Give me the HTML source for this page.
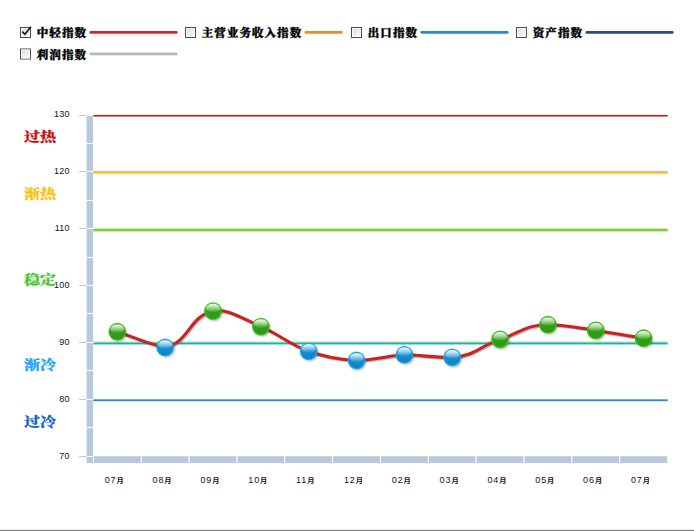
<!DOCTYPE html>
<html><head><meta charset="utf-8"><title>中轻指数</title>
<style>html,body{margin:0;padding:0;background:#fff;overflow:hidden}svg{display:block}</style></head>
<body>
<svg width="694" height="531" viewBox="0 0 694 531">
<defs>
<linearGradient id="gg" x1="0" y1="0" x2="0" y2="1"><stop offset="0" stop-color="#40b020"/><stop offset="0.5" stop-color="#319d15"/><stop offset="1" stop-color="#2e9812"/></linearGradient>
<linearGradient id="bg" x1="0" y1="0" x2="0" y2="1"><stop offset="0" stop-color="#1e9ee2"/><stop offset="0.5" stop-color="#148ed0"/><stop offset="1" stop-color="#1080c2"/></linearGradient>
<linearGradient id="hl" x1="0" y1="0" x2="0" y2="1"><stop offset="0" stop-color="#fff" stop-opacity="0.95"/><stop offset="0.45" stop-color="#fff" stop-opacity="0.55"/><stop offset="1" stop-color="#fff" stop-opacity="0"/></linearGradient>
<linearGradient id="cb" x1="0" y1="0" x2="1" y2="1"><stop offset="0" stop-color="#d6d6d6"/><stop offset="0.55" stop-color="#eeeeee"/><stop offset="1" stop-color="#fbfbfb"/></linearGradient>
<filter id="sh2" x="-5%" y="-30%" width="110%" height="160%"><feGaussianBlur stdDeviation="0.5"/></filter>
<filter id="sh" x="-30%" y="-30%" width="170%" height="170%"><feGaussianBlur stdDeviation="1.2"/></filter>
</defs>
<style>
.lg{font:900 11.5px "Liberation Serif","Noto Serif CJK SC",serif;fill:#000;letter-spacing:1.05px;stroke:#000;stroke-width:0.35px}
.ax{font:9px "Liberation Sans","Noto Sans CJK SC",sans-serif;fill:#111}
.mo{font-size:7.2px;font-weight:bold}
.zn{font:900 13px "Liberation Serif","Noto Serif CJK SC",serif;stroke-width:0.2px}
</style>
<rect width="694" height="531" fill="#fff"/>
<rect x="20.5" y="27.5" width="10" height="10" fill="url(#cb)" stroke="#4c4c4c" stroke-width="1"/>
<rect x="21.5" y="28.5" width="8" height="8" fill="none" stroke="#fff" stroke-width="1" opacity="0.9"/>
<path d="M22.3 31.7 l2.6 2.6 l6 -7.5" fill="none" stroke="#1a1a1a" stroke-width="1.7"/>
<text x="36.8" y="37.3" class="lg">中轻指数</text>
<line x1="90.8" y1="32.45" x2="176.3" y2="32.45" stroke="#d42626" stroke-width="2.8" stroke-linecap="round"/>
<rect x="185.5" y="27.5" width="10" height="10" fill="url(#cb)" stroke="#4c4c4c" stroke-width="1"/>
<rect x="186.5" y="28.5" width="8" height="8" fill="none" stroke="#fff" stroke-width="1" opacity="0.9"/>
<text x="201.8" y="37.3" class="lg">主营业务收入指数</text>
<line x1="306" y1="32.45" x2="341.3" y2="32.45" stroke="#f08a28" stroke-width="2.8" stroke-linecap="round"/>
<rect x="351.5" y="27.5" width="10" height="10" fill="url(#cb)" stroke="#4c4c4c" stroke-width="1"/>
<rect x="352.5" y="28.5" width="8" height="8" fill="none" stroke="#fff" stroke-width="1" opacity="0.9"/>
<text x="367.8" y="37.3" class="lg">出口指数</text>
<line x1="421.8" y1="32.45" x2="507.3" y2="32.45" stroke="#2a8ad8" stroke-width="2.8" stroke-linecap="round"/>
<rect x="516.5" y="27.5" width="10" height="10" fill="url(#cb)" stroke="#4c4c4c" stroke-width="1"/>
<rect x="517.5" y="28.5" width="8" height="8" fill="none" stroke="#fff" stroke-width="1" opacity="0.9"/>
<text x="532.8" y="37.3" class="lg">资产指数</text>
<line x1="586.8" y1="32.45" x2="672.3" y2="32.45" stroke="#2a4a88" stroke-width="2.8" stroke-linecap="round"/>
<rect x="20.5" y="49" width="10" height="10" fill="url(#cb)" stroke="#4c4c4c" stroke-width="1"/>
<rect x="21.5" y="50" width="8" height="8" fill="none" stroke="#fff" stroke-width="1" opacity="0.9"/>
<text x="36.8" y="58.8" class="lg">利润指数</text>
<line x1="90.8" y1="53.95" x2="176.3" y2="53.95" stroke="#b8b8b8" stroke-width="2.8" stroke-linecap="round"/>
<rect x="86.6" y="116" width="6.5" height="347.1" fill="#b8c9dc"/>
<rect x="93.9" y="456.2" width="573.3" height="6.9" fill="#b8c9dc"/>
<rect x="79" y="115" width="7.6" height="1" fill="#b8c9dc"/>
<rect x="86.6" y="143" width="7.4" height="1" fill="#fff"/>
<text x="69.9" y="117" text-anchor="end" class="ax" letter-spacing="0.3">130</text>
<rect x="79" y="171" width="7.6" height="1" fill="#b8c9dc"/>
<rect x="86.6" y="171" width="7.4" height="1" fill="#fff"/>
<rect x="86.6" y="200" width="7.4" height="1" fill="#fff"/>
<text x="69.9" y="174" text-anchor="end" class="ax" letter-spacing="0.3">120</text>
<rect x="79" y="228" width="7.6" height="1" fill="#b8c9dc"/>
<rect x="86.6" y="228" width="7.4" height="1" fill="#fff"/>
<rect x="86.6" y="257" width="7.4" height="1" fill="#fff"/>
<text x="69.9" y="231" text-anchor="end" class="ax" letter-spacing="0.3">110</text>
<rect x="79" y="285" width="7.6" height="1" fill="#b8c9dc"/>
<rect x="86.6" y="285" width="7.4" height="1" fill="#fff"/>
<rect x="86.6" y="313" width="7.4" height="1" fill="#fff"/>
<text x="69.9" y="288" text-anchor="end" class="ax" letter-spacing="0.3">100</text>
<rect x="79" y="342" width="7.6" height="1" fill="#b8c9dc"/>
<rect x="86.6" y="342" width="7.4" height="1" fill="#fff"/>
<rect x="86.6" y="370" width="7.4" height="1" fill="#fff"/>
<text x="69.9" y="345" text-anchor="end" class="ax" letter-spacing="0.3">90</text>
<rect x="79" y="399" width="7.6" height="1" fill="#b8c9dc"/>
<rect x="86.6" y="399" width="7.4" height="1" fill="#fff"/>
<rect x="86.6" y="427" width="7.4" height="1" fill="#fff"/>
<text x="69.9" y="402" text-anchor="end" class="ax" letter-spacing="0.3">80</text>
<rect x="79" y="456" width="7.6" height="1" fill="#b8c9dc"/>
<rect x="86.6" y="456" width="7.4" height="1" fill="#fff"/>
<text x="69.9" y="459" text-anchor="end" class="ax" letter-spacing="0.3">70</text>
<rect x="140.69" y="456" width="1.1" height="7" fill="#fff"/>
<rect x="188.53" y="456" width="1.1" height="7" fill="#fff"/>
<rect x="236.37" y="456" width="1.1" height="7" fill="#fff"/>
<rect x="284.21" y="456" width="1.1" height="7" fill="#fff"/>
<rect x="332.05" y="456" width="1.1" height="7" fill="#fff"/>
<rect x="379.89" y="456" width="1.1" height="7" fill="#fff"/>
<rect x="427.73" y="456" width="1.1" height="7" fill="#fff"/>
<rect x="475.57" y="456" width="1.1" height="7" fill="#fff"/>
<rect x="523.41" y="456" width="1.1" height="7" fill="#fff"/>
<rect x="571.25" y="456" width="1.1" height="7" fill="#fff"/>
<rect x="619.09" y="456" width="1.1" height="7" fill="#fff"/>
<text x="104.72" y="483.2" class="ax"><tspan letter-spacing="0.9">07</tspan><tspan class="mo">月</tspan></text>
<text x="152.56" y="483.2" class="ax"><tspan letter-spacing="0.9">08</tspan><tspan class="mo">月</tspan></text>
<text x="200.40" y="483.2" class="ax"><tspan letter-spacing="0.9">09</tspan><tspan class="mo">月</tspan></text>
<text x="248.24" y="483.2" class="ax"><tspan letter-spacing="0.9">10</tspan><tspan class="mo">月</tspan></text>
<text x="296.08" y="483.2" class="ax"><tspan letter-spacing="0.9">11</tspan><tspan class="mo">月</tspan></text>
<text x="343.92" y="483.2" class="ax"><tspan letter-spacing="0.9">12</tspan><tspan class="mo">月</tspan></text>
<text x="391.76" y="483.2" class="ax"><tspan letter-spacing="0.9">02</tspan><tspan class="mo">月</tspan></text>
<text x="439.60" y="483.2" class="ax"><tspan letter-spacing="0.9">03</tspan><tspan class="mo">月</tspan></text>
<text x="487.44" y="483.2" class="ax"><tspan letter-spacing="0.9">04</tspan><tspan class="mo">月</tspan></text>
<text x="535.28" y="483.2" class="ax"><tspan letter-spacing="0.9">05</tspan><tspan class="mo">月</tspan></text>
<text x="583.12" y="483.2" class="ax"><tspan letter-spacing="0.9">06</tspan><tspan class="mo">月</tspan></text>
<text x="630.96" y="483.2" class="ax"><tspan letter-spacing="0.9">07</tspan><tspan class="mo">月</tspan></text>
<rect x="93.4" y="115" width="574.3" height="1" fill="#cc1010" opacity="1"/>
<rect x="93.4" y="116" width="574.3" height="1" fill="#cc1010" opacity="0.55"/>
<rect x="93.4" y="171" width="574.3" height="1" fill="#e86060" opacity="0.55"/>
<rect x="93.4" y="172" width="574.3" height="1" fill="#ffc010" opacity="1"/>
<rect x="93.4" y="173" width="574.3" height="1" fill="#ffc010" opacity="0.7"/>
<rect x="93.4" y="228" width="574.3" height="1" fill="#ffc010" opacity="0.4"/>
<rect x="93.4" y="229" width="574.3" height="1" fill="#58d238" opacity="1"/>
<rect x="93.4" y="230" width="574.3" height="1" fill="#58d238" opacity="0.85"/>
<rect x="93.4" y="231" width="574.3" height="1" fill="#58d238" opacity="0.35"/>
<rect x="93.4" y="341" width="574.3" height="1" fill="#80de60" opacity="0.35"/>
<rect x="93.4" y="342" width="574.3" height="1" fill="#80de60" opacity="1"/>
<rect x="93.4" y="343" width="574.3" height="1" fill="#10a8f0" opacity="1"/>
<rect x="93.4" y="344" width="574.3" height="1" fill="#10a8f0" opacity="0.45"/>
<rect x="93.4" y="399" width="574.3" height="1" fill="#2a88d8" opacity="0.7"/>
<rect x="93.4" y="400" width="574.3" height="1" fill="#2a88d8" opacity="1"/>
<rect x="93.4" y="401" width="574.3" height="1" fill="#2a88d8" opacity="0.2"/>
<text transform="translate(24,140.9) scale(1.235,1)" class="zn" fill="#c81010" stroke="#c81010">过热</text>
<text transform="translate(24,197.9) scale(1.235,1)" class="zn" fill="#ffc010" stroke="#ffc010">渐热</text>
<text transform="translate(24,283.9) scale(1.235,1)" class="zn" fill="#48c828" stroke="#48c828">稳定</text>
<text transform="translate(24,368.5) scale(1.235,1)" class="zn" fill="#1aa4f4" stroke="#1aa4f4">渐冷</text>
<text transform="translate(24,425.5) scale(1.235,1)" class="zn" fill="#1264c8" stroke="#1264c8">过冷</text>
<path d="M117.32 331.70 C133.11 336.91 149.37 344.37 165.16 347.50 C189.08 342.35 189.08 316.33 213.00 311.10 C227.35 307.97 244.10 319.56 260.84 326.60 C279.98 334.64 289.54 344.52 308.68 351.30 C323.03 356.38 336.43 359.76 356.52 360.50 C368.48 360.94 392.40 355.19 404.36 354.80 C416.32 354.41 440.24 358.36 452.20 357.40 C476.12 355.47 478.51 346.76 500.04 339.40 C521.57 332.04 526.35 324.70 547.88 324.70 C567.02 324.70 581.37 328.38 595.72 330.40 C611.51 332.97 627.77 335.63 643.56 338.20" transform="translate(1,1.3)" fill="none" stroke="#50585c" stroke-opacity="0.42" stroke-width="2.6" stroke-linecap="round" stroke-linejoin="round" filter="url(#sh2)"/>
<path d="M117.32 331.70 C133.11 336.91 149.37 344.37 165.16 347.50 C189.08 342.35 189.08 316.33 213.00 311.10 C227.35 307.97 244.10 319.56 260.84 326.60 C279.98 334.64 289.54 344.52 308.68 351.30 C323.03 356.38 336.43 359.76 356.52 360.50 C368.48 360.94 392.40 355.19 404.36 354.80 C416.32 354.41 440.24 358.36 452.20 357.40 C476.12 355.47 478.51 346.76 500.04 339.40 C521.57 332.04 526.35 324.70 547.88 324.70 C567.02 324.70 581.37 328.38 595.72 330.40 C611.51 332.97 627.77 335.63 643.56 338.20" fill="none" stroke="#d02020" stroke-width="3.05" stroke-linecap="round" stroke-linejoin="round"/>
<circle cx="118.62" cy="333.30" r="8.4" fill="#000" opacity="0.28" filter="url(#sh)"/>
<circle cx="117.32" cy="331.70" r="8.9" fill="#43bf23"/>
<circle cx="117.32" cy="331.70" r="7.7" fill="url(#gg)"/>
<ellipse cx="117.32" cy="328.80" rx="6.9" ry="4.4" fill="url(#hl)"/>
<circle cx="166.46" cy="349.10" r="8.4" fill="#000" opacity="0.28" filter="url(#sh)"/>
<circle cx="165.16" cy="347.50" r="8.9" fill="#1fa8f0"/>
<circle cx="165.16" cy="347.50" r="7.7" fill="url(#bg)"/>
<ellipse cx="165.16" cy="344.60" rx="6.9" ry="4.4" fill="url(#hl)"/>
<circle cx="214.30" cy="312.70" r="8.4" fill="#000" opacity="0.28" filter="url(#sh)"/>
<circle cx="213.00" cy="311.10" r="8.9" fill="#43bf23"/>
<circle cx="213.00" cy="311.10" r="7.7" fill="url(#gg)"/>
<ellipse cx="213.00" cy="308.20" rx="6.9" ry="4.4" fill="url(#hl)"/>
<circle cx="262.14" cy="328.20" r="8.4" fill="#000" opacity="0.28" filter="url(#sh)"/>
<circle cx="260.84" cy="326.60" r="8.9" fill="#43bf23"/>
<circle cx="260.84" cy="326.60" r="7.7" fill="url(#gg)"/>
<ellipse cx="260.84" cy="323.70" rx="6.9" ry="4.4" fill="url(#hl)"/>
<circle cx="309.98" cy="352.90" r="8.4" fill="#000" opacity="0.28" filter="url(#sh)"/>
<circle cx="308.68" cy="351.30" r="8.9" fill="#1fa8f0"/>
<circle cx="308.68" cy="351.30" r="7.7" fill="url(#bg)"/>
<ellipse cx="308.68" cy="348.40" rx="6.9" ry="4.4" fill="url(#hl)"/>
<circle cx="357.82" cy="362.10" r="8.4" fill="#000" opacity="0.28" filter="url(#sh)"/>
<circle cx="356.52" cy="360.50" r="8.9" fill="#1fa8f0"/>
<circle cx="356.52" cy="360.50" r="7.7" fill="url(#bg)"/>
<ellipse cx="356.52" cy="357.60" rx="6.9" ry="4.4" fill="url(#hl)"/>
<circle cx="405.66" cy="356.40" r="8.4" fill="#000" opacity="0.28" filter="url(#sh)"/>
<circle cx="404.36" cy="354.80" r="8.9" fill="#1fa8f0"/>
<circle cx="404.36" cy="354.80" r="7.7" fill="url(#bg)"/>
<ellipse cx="404.36" cy="351.90" rx="6.9" ry="4.4" fill="url(#hl)"/>
<circle cx="453.50" cy="359.00" r="8.4" fill="#000" opacity="0.28" filter="url(#sh)"/>
<circle cx="452.20" cy="357.40" r="8.9" fill="#1fa8f0"/>
<circle cx="452.20" cy="357.40" r="7.7" fill="url(#bg)"/>
<ellipse cx="452.20" cy="354.50" rx="6.9" ry="4.4" fill="url(#hl)"/>
<circle cx="501.34" cy="341.00" r="8.4" fill="#000" opacity="0.28" filter="url(#sh)"/>
<circle cx="500.04" cy="339.40" r="8.9" fill="#43bf23"/>
<circle cx="500.04" cy="339.40" r="7.7" fill="url(#gg)"/>
<ellipse cx="500.04" cy="336.50" rx="6.9" ry="4.4" fill="url(#hl)"/>
<circle cx="549.18" cy="326.30" r="8.4" fill="#000" opacity="0.28" filter="url(#sh)"/>
<circle cx="547.88" cy="324.70" r="8.9" fill="#43bf23"/>
<circle cx="547.88" cy="324.70" r="7.7" fill="url(#gg)"/>
<ellipse cx="547.88" cy="321.80" rx="6.9" ry="4.4" fill="url(#hl)"/>
<circle cx="597.02" cy="332.00" r="8.4" fill="#000" opacity="0.28" filter="url(#sh)"/>
<circle cx="595.72" cy="330.40" r="8.9" fill="#43bf23"/>
<circle cx="595.72" cy="330.40" r="7.7" fill="url(#gg)"/>
<ellipse cx="595.72" cy="327.50" rx="6.9" ry="4.4" fill="url(#hl)"/>
<circle cx="644.86" cy="339.80" r="8.4" fill="#000" opacity="0.28" filter="url(#sh)"/>
<circle cx="643.56" cy="338.20" r="8.9" fill="#43bf23"/>
<circle cx="643.56" cy="338.20" r="7.7" fill="url(#gg)"/>
<ellipse cx="643.56" cy="335.30" rx="6.9" ry="4.4" fill="url(#hl)"/>
<rect x="0" y="530" width="694" height="1" fill="#888"/>
<rect x="0" y="529" width="694" height="1" fill="#e8e8e8"/>
</svg>
</body></html>
